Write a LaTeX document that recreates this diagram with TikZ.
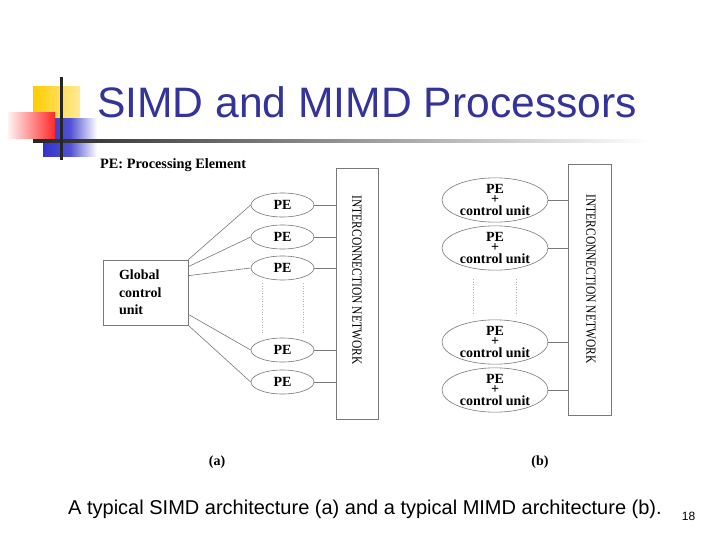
\documentclass[tikz,border=0pt]{standalone}
\usepackage{fontspec}
\setmainfont{Liberation Serif}
\newfontfamily\arialf{Liberation Sans}
\usetikzlibrary{shapes.geometric,calc}
\definecolor{titleblue}{RGB}{51,51,153}
\definecolor{logoyellow}{RGB}{255,204,0}
\definecolor{logoblue}{RGB}{51,51,204}
\definecolor{logored}{RGB}{255,40,40}
\definecolor{wiregray}{RGB}{120,120,120}
\tikzset{
  pe/.style={ellipse, draw=wiregray, line width=0.6pt, minimum width=63pt, minimum height=24pt, inner sep=0pt,
    font=\bfseries\fontsize{14}{14}\selectfont},
  pecu/.style={ellipse, draw=wiregray, line width=0.6pt, minimum width=106pt, minimum height=39pt, inner sep=0pt,
    align=center, font=\bfseries\fontsize{14}{14}\selectfont},
  netbox/.style={rectangle, draw=wiregray, line width=0.7pt, minimum width=42pt, minimum height=251pt, inner sep=0pt},
  nettext/.style={rotate=-90, font=\fontsize{14}{14}\selectfont, inner sep=0pt, xscale=0.82},
  gbox/.style={rectangle, draw=wiregray, line width=0.7pt, minimum width=85pt, minimum height=65pt,
    text width=53pt, inner xsep=16pt, align=left, font=\bfseries\fontsize{14}{17.5}\selectfont},
  wire/.style={draw=wiregray, line width=0.6pt},
  dots/.style={draw=gray!60, line width=0.6pt, dotted},
  lbl/.style={font=\bfseries\fontsize{14}{14}\selectfont, inner sep=0pt},
}
\begin{document}
\begin{tikzpicture}[x=1pt,y=-1pt]
\fill[white] (0,0) rectangle (720,540);
\useasboundingbox (0,0) rectangle (720,540);
% logo
\shade[left color=logoyellow, right color=logoyellow!40] (33,87) rectangle (80,126);
\shade[left color=logoblue, right color=white, middle color=logoblue!85] (43,119) rectangle (97,157);
\shade[left color=red!5, right color=logored] (8,113) rectangle (55,139);
\shade[left color=black!85, right color=white] (33,139.5) rectangle (650,142.5);
\fill[black!85] (60,77) rectangle (62.5,160);
% title
\node[anchor=base west, inner sep=0pt, text=titleblue, font=\arialf\fontsize{42.6}{43}\selectfont] (title) at (97,118) {SIMD and MIMD Processors};
% (a)
\node[anchor=west, font=\bfseries\fontsize{14.3}{14}\selectfont, inner sep=0pt] (legend) at (100,165) {PE: Processing Element};
\node[netbox] (netA) at (357,293.5) {};
\node[nettext] (netAt) at (357,280) {INTERCONNECTION NETWORK};
\node[gbox] (gcu) at (145.5,292.5) {Global\\control\\unit};
\node[pe] (pa1) at (282.5,205) {PE};
\node[pe] (pa2) at (282.5,237) {PE};
\node[pe] (pa3) at (282.5,268) {PE};
\node[pe] (pa4) at (282.5,350) {PE};
\node[pe] (pa5) at (282.5,382) {PE};
\foreach \n in {pa1,pa2,pa3,pa4,pa5}{
  \draw[wire] (\n.east) -- (\n.east -| netA.west);
}
\draw[wire] (gcu.north east) -- (pa1.west);
\draw[wire] ([yshift=-7pt]gcu.north east) -- (pa2.west);
\draw[wire] ([yshift=-16pt]gcu.north east) -- (pa3.west);
\draw[wire] ([yshift=11pt]gcu.south east) -- (pa4.west);
\draw[wire] (gcu.south east) -- (pa5.west);
\draw[dots] (262,283) -- (262,335);
\draw[dots] (303,283) -- (303,335);
\node[lbl] (la) at (217,462) {(a)};
% (b)
\node[netbox, minimum width=43pt] (netB) at (589.5,289.5) {};
\node[nettext] (netBt) at (591,279) {INTERCONNECTION NETWORK};
\node[pecu] (pb1) at (495,200) {PE\\[-4pt]+\\[-2pt]control unit};
\node[pecu] (pb2) at (495,248) {PE\\[-4pt]+\\[-2pt]control unit};
\node[pecu] (pb3) at (495,342) {PE\\[-4pt]+\\[-2pt]control unit};
\node[pecu] (pb4) at (495,390) {PE\\[-4pt]+\\[-2pt]control unit};
\foreach \n in {pb1,pb2,pb3,pb4}{
  \draw[wire] (\n.east) -- (\n.east -| netB.west);
}
\draw[dots] (473,279) -- (473,313);
\draw[dots] (516,279) -- (516,313);
\node[lbl] (lb) at (540,462) {(b)};
% caption
\node[inner sep=0pt, font=\arialf\fontsize{20}{20}\selectfont] (cap) at (365,509) {A typical SIMD architecture (a) and a typical MIMD architecture (b).};
\node[inner sep=0pt, font=\arialf\fontsize{12}{12}\selectfont] (pg) at (688.5,516) {18};
\end{tikzpicture}
\end{document}
